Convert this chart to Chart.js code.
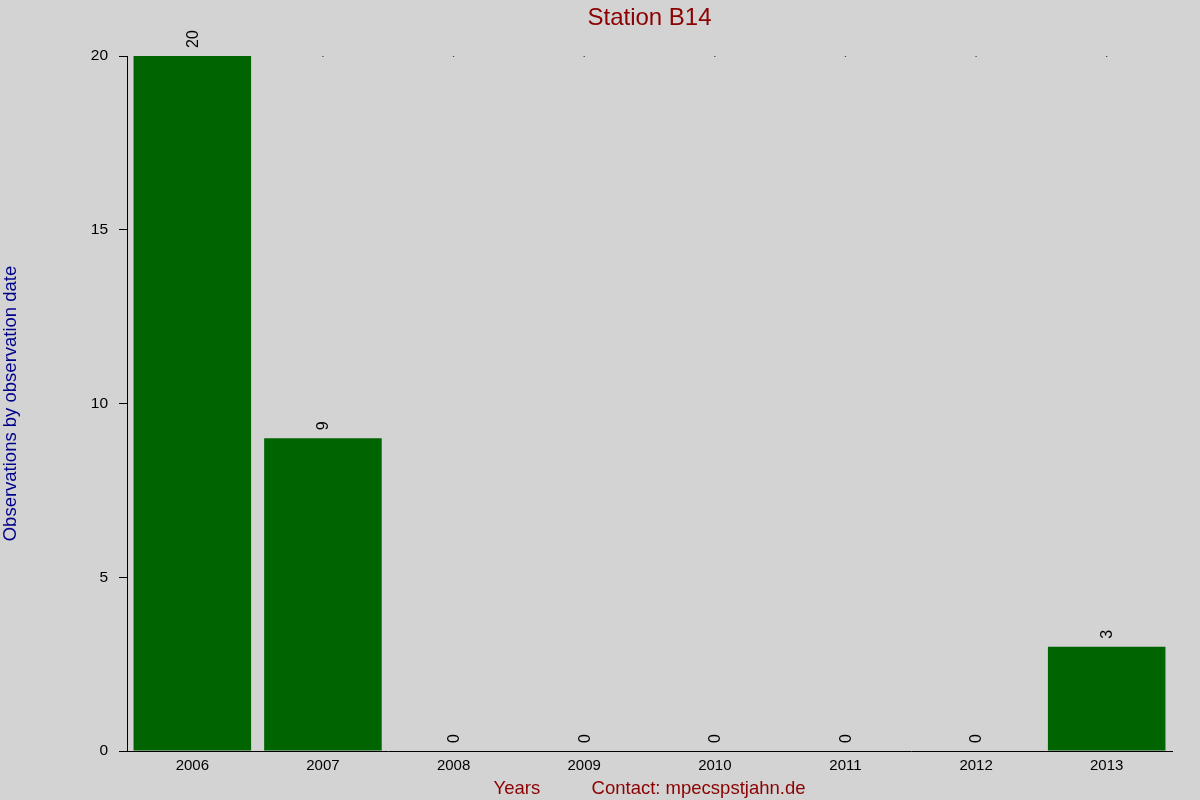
<!DOCTYPE html>
<html>
<head>
<meta charset="utf-8">
<script src="https://cdn.jsdelivr.net/npm/chart.js@4"></script>
<style>
  html, body { margin: 0; padding: 0; background: #d3d3d3; }
  #wrap { width: 1200px; height: 800px; }
</style>
</head>
<body>
<div id="wrap"><canvas id="myChart"></canvas></div>
<script>
var years = ["2006", "2007", "2008", "2009", "2010", "2011", "2012", "2013"];
var observations = [20, 9, 0, 0, 0, 0, 0, 3];
var topMarks = [20, 20, 20, 20, 20, 20, 20, 20];
var yTicks = [0, 5, 10, 15, 20];

// rotated value labels above each bar
var barLabels = {
  id: 'barLabels',
  afterDatasetsDraw: function(chart) {
    var ctx = chart.ctx;
    var meta = chart.getDatasetMeta(1);
    ctx.save();
    ctx.fillStyle = '#000000';
    ctx.font = '16px "Liberation Sans", Arial, sans-serif';
    ctx.textAlign = 'left';
    ctx.textBaseline = 'middle';
    meta.data.forEach(function(bar, i) {
      ctx.save();
      ctx.translate(bar.x + 1, bar.y - 8);
      ctx.rotate(-Math.PI / 2);
      ctx.fillText(String(observations[i]), 0, 0);
      ctx.restore();
    });
    ctx.restore();
  }
};

var ctx = document.getElementById('myChart').getContext('2d');
var chart = new Chart(ctx, {
  type: 'bar',
  data: {
    labels: years,
    datasets: [{
      type: 'line',
      data: topMarks,
      showLine: false,
      pointRadius: 0.8,
      pointBackgroundColor: '#000000',
      pointBorderWidth: 0,
      order: 2
    },
    {
      label: 'Observations',
      data: observations,
      backgroundColor: '#006400',
      borderWidth: 0,
      barPercentage: 0.9,
      categoryPercentage: 1.0,
      order: 1
    }]
  },
  options: {
    responsive: true,
    maintainAspectRatio: false,
    animation: false,
    events: [],
    layout: { padding: { left: 0, right: 28, top: 0, bottom: 0 } },
    plugins: {
      legend: { display: false },
      tooltip: { enabled: false },
      title: {
        display: true,
        fullSize: false,
        text: 'Station B14',
        color: '#8b0000',
        font: { family: '"Liberation Sans", Arial, sans-serif', size: 24, weight: 'normal' },
        padding: { top: 4, bottom: 23.2 }
      }
    },
    scales: {
      x: {
        grid: { display: false, drawTicks: false },
        border: { display: true, color: '#000000', width: 1 },
        ticks: {
          color: '#000000',
          padding: 6,
          maxRotation: 0,
          font: { family: '"Liberation Sans", Arial, sans-serif', size: 15 }
        },
        title: {
          display: true,
          text: 'Years          Contact: mpecspstjahn.de',
          color: '#8b0000',
          padding: { top: 3, bottom: 0 },
          font: { family: '"Liberation Sans", Arial, sans-serif', size: 18.5 }
        },
        afterFit: function(scale) { scale.height = 49; }
      },
      y: {
        min: 0,
        max: 20,
        grid: { drawOnChartArea: false, drawTicks: true, tickLength: 8, color: '#000000' },
        border: { display: true, color: '#000000', width: 1 },
        afterBuildTicks: function(scale) {
          scale.ticks = yTicks.map(function(v) { return { value: v }; });
        },
        ticks: {
          color: '#000000',
          padding: 11,
          font: { family: '"Liberation Sans", Arial, sans-serif', size: 15.5 }
        },
        title: {
          display: true,
          text: 'Observations by observation date',
          color: '#00008b',
          padding: { top: 0, bottom: 0 },
          font: { family: '"Liberation Sans", Arial, sans-serif', size: 18.5 }
        },
        afterFit: function(scale) { scale.width = 127; }
      }
    }
  },
  plugins: [barLabels]
});
</script>
</body>
</html>
